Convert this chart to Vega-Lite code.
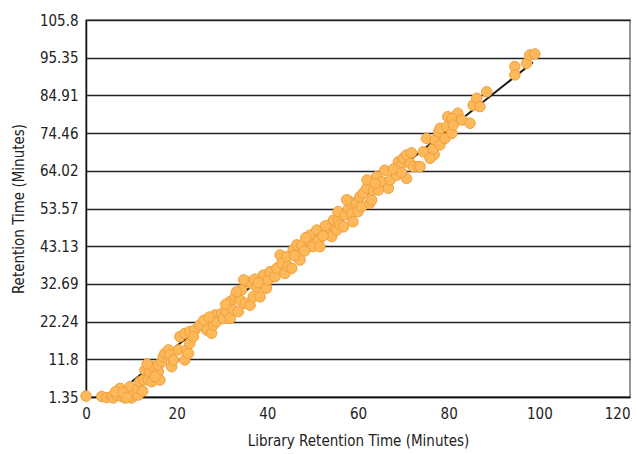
{
  "$schema": "https://vega.github.io/schema/vega-lite/v6.json",
  "width": 544,
  "height": 377,
  "autosize": {"type": "none"},
  "padding": {"left": 86, "top": 20, "right": 7, "bottom": 57},
  "background": "white",
  "config": {
    "view": {"stroke": "#777", "strokeWidth": 1.5},
    "font": "'Liberation Sans Narrow', 'DejaVu Sans Condensed', 'Liberation Sans', sans-serif",
    "axis": {
      "labelFont": "'Liberation Sans Narrow', 'DejaVu Sans Condensed', 'Liberation Sans', sans-serif",
      "titleFont": "'Liberation Sans Narrow', 'DejaVu Sans Condensed', 'Liberation Sans', sans-serif",
      "labelFontSize": 15,
      "titleFontSize": 15,
      "titleFontWeight": "normal",
      "labelColor": "#222",
      "titleColor": "#222",
      "domainColor": "#111",
      "domainWidth": 1.5,
      "ticks": false,
      "labelOverlap": false,
      "labelFlush": false,
      "labelBound": false,
      "tickCount": 30
    }
  },
  "datasets": {
    "pts": [
      {"x":0,"y":1.6},{"x":3.46,"y":1.5},{"x":4.56,"y":1.2},{"x":5.66,"y":1.5},{"x":6.03,"y":1.1},{"x":6.76,"y":1.9},{"x":7.5,"y":3.75},{"x":7.87,"y":1.5},{"x":8.6,"y":1.1},{"x":9.34,"y":2.37},{"x":9.7,"y":4.2},{"x":10.07,"y":1.1},{"x":10.44,"y":1.9},{"x":11.54,"y":1.9},{"x":11.54,"y":3.75},{"x":11.9,"y":5.6},{"x":12.65,"y":6.06},{"x":13.0,"y":8.8},{"x":13.75,"y":6.06},{"x":14.1,"y":8.4},{"x":14.5,"y":5.6},{"x":14.85,"y":9.75},{"x":15.96,"y":8.4},{"x":15.96,"y":10.2},{"x":16.3,"y":6.06},{"x":16.7,"y":11.1},{"x":17.06,"y":12.5},{"x":17.4,"y":13.4},{"x":18.2,"y":14.4},{"x":18.5,"y":13.0},{"x":18.9,"y":9.75},{"x":19.3,"y":11.6},{"x":20.4,"y":14.4},
      {"x":6.5,"y":2.8},{"x":8.2,"y":2.6},{"x":9.0,"y":1.2},{"x":12.5,"y":3.0},{"x":13.5,"y":10.5},{"x":15.2,"y":7.0},
      {"x":21.8,"y":11.6},{"x":22.2,"y":14.4},{"x":22.6,"y":13.4},{"x":22.9,"y":16.2},
      {"x":20.7,"y":18.06},{"x":21.8,"y":19.0},{"x":22.9,"y":19.45},{"x":24.0,"y":19.9},{"x":23.7,"y":18.06},{"x":25.1,"y":21.3},{"x":26.6,"y":19.9},{"x":27.7,"y":19.0},{"x":28.1,"y":21.3},{"x":28.5,"y":24.1},{"x":28.8,"y":22.2},{"x":29.9,"y":24.5},{"x":30.3,"y":23.1},{"x":31.0,"y":25.0},{"x":31.8,"y":23.1},{"x":31.8,"y":27.8},{"x":32.5,"y":25.5},{"x":32.9,"y":29.1},{"x":33.6,"y":25.0},{"x":34.0,"y":28.2},{"x":34.3,"y":31.0},{"x":35.1,"y":27.3},{"x":35.4,"y":33.3},{"x":36.2,"y":26.8},{"x":36.5,"y":32.8},{"x":36.9,"y":29.1},{"x":37.6,"y":31.9},{"x":38.4,"y":29.1},{"x":39.1,"y":35.1},{"x":39.8,"y":31.5},{"x":40.2,"y":33.8},{"x":40.6,"y":36.1},{"x":41.7,"y":34.7},{"x":42.1,"y":37.0},{"x":42.8,"y":40.7},{"x":43.2,"y":38.4},{"x":43.9,"y":35.6},{"x":44.3,"y":40.2},{"x":44.6,"y":37.5},
      {"x":26.0,"y":22.6},{"x":27.2,"y":23.5},{"x":30.8,"y":27.0},{"x":33.2,"y":30.5},{"x":34.8,"y":33.8},{"x":37.2,"y":34.0},{"x":38.0,"y":33.0},
      {"x":45.4,"y":37.0},{"x":45.7,"y":42.1},{"x":46.5,"y":43.5},{"x":47.2,"y":39.3},{"x":47.6,"y":43.5},{"x":49.0,"y":44.8},{"x":49.4,"y":46.2},{"x":50.1,"y":43.0},{"x":50.9,"y":47.6},{"x":51.3,"y":44.8},{"x":51.6,"y":43.0},{"x":53.5,"y":47.1},{"x":53.8,"y":49.0},{"x":54.2,"y":45.8},{"x":54.6,"y":50.4},{"x":55.3,"y":47.6},{"x":55.6,"y":50.4},{"x":55.6,"y":52.7},{"x":56.0,"y":49.0},{"x":56.8,"y":48.5},{"x":57.1,"y":51.8},{"x":57.9,"y":53.6},{"x":58.2,"y":55.5},{"x":58.6,"y":52.2},{"x":58.9,"y":49.9},{"x":59.7,"y":55.0},{"x":60.0,"y":52.7},{"x":60.4,"y":56.8},{"x":60.8,"y":54.1},{"x":61.1,"y":57.8},{"x":61.9,"y":59.2},{"x":62.6,"y":55.0},{"x":63.0,"y":55.9},{"x":63.4,"y":58.7},{"x":64.1,"y":62.4},{"x":64.5,"y":58.7},{"x":65.2,"y":61.0},{"x":65.9,"y":64.2},{"x":66.7,"y":59.2},
      {"x":46.0,"y":40.5},{"x":48.2,"y":41.8},{"x":48.5,"y":45.5},{"x":52.3,"y":46.0},{"x":52.8,"y":48.8},{"x":57.5,"y":56.0},{"x":62.0,"y":61.5},{"x":63.8,"y":60.5},
      {"x":67.1,"y":61.5},{"x":68.5,"y":62.8},{"x":68.9,"y":66.5},{"x":69.3,"y":65.2},{"x":70.0,"y":67.5},{"x":70.7,"y":68.4},{"x":70.7,"y":61.9},{"x":71.5,"y":66.1},{"x":72.2,"y":65.2},{"x":73.3,"y":65.2},
      {"x":67.8,"y":64.5},{"x":69.6,"y":63.5},{"x":71.8,"y":69.0},{"x":76.8,"y":68.5},{"x":79.8,"y":79.0},{"x":82.0,"y":80.0},
      {"x":73.7,"y":65.2},{"x":74.4,"y":69.3},{"x":75.1,"y":73.0},{"x":75.9,"y":67.5},{"x":76.6,"y":70.2},{"x":77.0,"y":72.5},{"x":77.8,"y":74.8},{"x":78.1,"y":71.2},{"x":78.1,"y":75.8},{"x":79.2,"y":73.0},{"x":79.6,"y":76.2},{"x":80.7,"y":74.4},{"x":80.7,"y":78.5},{"x":81.0,"y":76.7},{"x":82.9,"y":78.1},{"x":84.7,"y":77.2},{"x":85.4,"y":82.2},{"x":86.2,"y":84.1},{"x":86.9,"y":81.8},{"x":88.4,"y":85.9},{"x":94.6,"y":92.9},{"x":94.6,"y":90.6},{"x":97.2,"y":93.8},{"x":97.9,"y":96.1},{"x":99.0,"y":96.4}
    ],
    "fit": [
      {"x": 6, "y": 1.5},
      {"x": 98.6, "y": 94.1}
    ]
  },
  "layer": [
    {
      "data": {"name": "fit"},
      "mark": {"type": "line", "color": "#1a1a1a", "strokeWidth": 2},
      "encoding": {
        "x": {"field": "x", "type": "quantitative"},
        "y": {"field": "y", "type": "quantitative"}
      }
    },
    {
      "data": {"name": "pts"},
      "mark": {"type": "point", "filled": true, "fill": "#FDB85A", "stroke": "#F0A03C", "strokeWidth": 1, "fillOpacity": 1, "opacity": 1, "size": 110, "shape": "circle", "clip": false},
      "encoding": {
        "x": {
          "field": "x", "type": "quantitative",
          "scale": {"domain": [0, 120], "nice": false, "zero": false},
          "axis": {"values": [0, 20, 40, 60, 80, 100, 120], "grid": false, "title": "Library Retention Time (Minutes)", "labelPadding": 9, "titlePadding": 12,
            "labelAlign": {"condition": {"test": "datum.value == 120", "value": "right"}, "value": "center"}}
        },
        "y": {
          "field": "y", "type": "quantitative",
          "scale": {"domain": [1.35, 105.8], "nice": false, "zero": false},
          "axis": {"values": [1.35, 11.8, 22.24, 32.69, 43.13, 53.57, 64.02, 74.46, 84.91, 95.35, 105.8], "labelExpr": "datum.value", "grid": true, "gridColor": "#222", "gridWidth": 1.5, "gridOpacity": 1, "title": "Retention Time (Minutes)", "labelPadding": 8, "titlePadding": 13}
        }
      }
    }
  ]
}
